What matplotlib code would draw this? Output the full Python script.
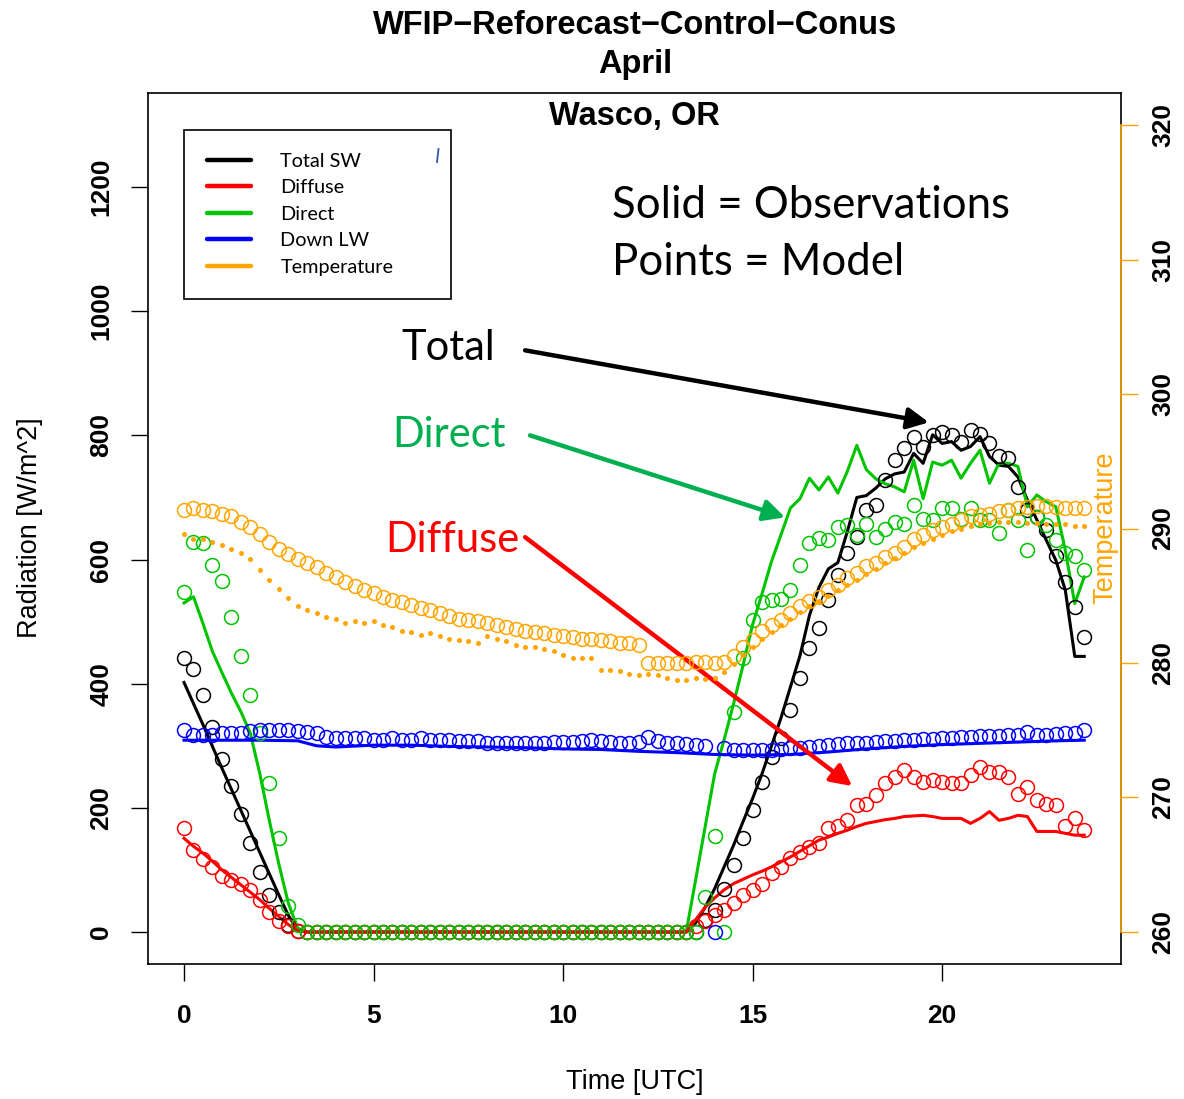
import numpy as np
import matplotlib
matplotlib.use("Agg")
from matplotlib import pyplot as plt
from matplotlib.lines import Line2D

# ---------------- data ----------------
# model output every 15 min (points)
t_model = np.arange(0, 24, 0.25)

total_model = ([441, 423, 382, 331, 278, 235, 190, 143, 96, 60, 33, 11, 2] + [0] * 41 +
               [0, 19, 35, 70, 108, 151, 197, 242, 282, 312, 358, 409, 457, 489, 535, 575,
                610, 637, 680, 688, 728, 760, 779, 798, 782, 801, 806, 801, 790, 809, 803,
                787, 766, 763, 717, 680, 669, 648, 605, 564, 524, 476])
diffuse_model = ([167, 132, 117, 105, 90, 84, 78, 68, 52, 33, 17, 9, 2] + [0] * 41 +
                 [9, 17, 27, 35, 46, 60, 68, 78, 95, 105, 119, 129, 137, 143, 167, 170,
                  180, 205, 207, 221, 240, 250, 261, 250, 242, 245, 242, 240, 240, 253,
                  266, 258, 258, 250, 223, 234, 213, 207, 205, 170, 183, 164])
direct_model = ([548, 629, 627, 592, 566, 507, 445, 382, 321, 240, 151, 42, 11] + [0] * 41 +
                [0, 57, 154, 0, 355, 441, 503, 532, 535, 537, 551, 591, 626, 634, 631, 653,
                 656, 640, 658, 637, 650, 661, 658, 688, 666, 664, 683, 683, 666, 683, 664,
                 664, 642, 680, 664, 615, 669, 656, 631, 610, 605, 583])
lw_model = [325, 317, 317, 317, 320, 320, 320, 324, 325, 325, 325, 325, 324, 323, 320, 314,
            312, 312, 312, 312, 310, 310, 312, 310, 310, 312, 310, 310, 310, 308, 307, 307,
            304, 305, 305, 305, 304, 304, 305, 306, 306, 306, 308, 309, 308, 306, 305, 304,
            306, 314, 308, 305, 304, 303, 302, 300, 0,
            296, 294, 293, 293, 294, 294, 295, 296, 297, 298, 300, 302, 303, 304, 305, 305,
            306, 307, 308, 309, 310, 311, 311, 312, 313, 314, 314, 315, 316, 316, 317, 318,
            322, 318, 318, 319, 320, 321, 325]
temp_model = [291.4, 291.5, 291.4, 291.3, 291.1, 290.9, 290.5, 290.1, 289.6, 289.0, 288.5,
              288.1, 287.7, 287.4, 287.1, 286.7, 286.4, 286.0, 285.7, 285.4, 285.2, 284.9,
              284.7, 284.5, 284.3, 284.1, 283.9, 283.7, 283.5, 283.3, 283.2, 283.1, 283.0,
              282.8, 282.7, 282.5, 282.4, 282.3, 282.2, 282.1, 282.0, 281.9, 281.8, 281.8,
              281.7, 281.6, 281.5, 281.5, 281.3,
              280.0, 280.0, 280.0, 280.0, 280.0, 280.1, 280.1, 280.0, 280.1,
              280.5, 281.2, 281.7, 282.4, 282.8, 283.2, 283.7, 284.2, 284.6, 284.9, 285.4,
              285.8, 286.3, 286.7, 287.2, 287.4, 287.9, 288.2, 288.6, 289.2, 289.5, 289.9,
              290.1, 290.3, 290.6, 290.9, 291.0, 291.1, 291.3, 291.4, 291.5, 291.6, 291.7,
              291.7, 291.6, 291.5, 291.5, 291.5]

# observations (solid lines), same 15-min clock
total_obs = ([402, 368, 334, 299, 264, 230, 196, 162, 128, 94, 60, 27, 3] + [0] * 41 +
             [15, 40, 70, 105, 140, 178, 215, 255, 300, 345, 395, 445, 510, 555, 585, 595,
              645, 700, 703, 715, 730, 738, 741, 771, 755, 801, 787, 790, 776, 782, 798,
              766, 752, 750, 733, 696, 664, 631, 599, 551, 444, 444])
diffuse_obs = ([151, 138, 127, 114, 100, 88, 76, 64, 52, 38, 25, 12, 2] + [0] * 41 +
               [20, 40, 55, 68, 78, 85, 92, 98, 105, 113, 121, 130, 139, 148, 153, 159,
                164, 170, 175, 178, 181, 183, 186, 187, 188, 186, 183, 183, 183, 175, 183,
                194, 180, 183, 188, 186, 162, 162, 162, 159, 156, 156])
direct_obs = ([530, 540, 497, 452, 418, 385, 355, 320, 255, 180, 110, 47, 6] + [0] * 41 +
              [85, 170, 255, 310, 368, 430, 495, 545, 597, 640, 683, 698, 731, 712, 733,
               707, 742, 784, 745, 730, 722, 717, 709, 760, 698, 757, 752, 760, 731, 755,
               776, 723, 755, 755, 750, 685, 704, 693, 685, 615, 529, 572])
temp_obs = [289.6, 289.2, 289.2, 289.0, 288.8, 288.5, 288.2, 287.7, 286.9, 286.2, 285.5,
            284.8, 284.2, 283.9, 283.7, 283.4, 283.3, 283.0, 283.1, 283.0, 283.1, 282.8,
            282.7, 282.4, 282.3, 282.1, 282.2, 282.0, 281.8, 281.7, 281.6, 281.5, 282.0,
            281.8, 281.6, 281.3, 281.2, 281.2, 281.0, 280.9, 280.6, 280.4, 280.4, 280.4,
            279.5, 279.5, 279.4, 279.2, 279.1, 279.2, 279.1, 278.9, 278.7, 278.7, 278.9,
            278.8, 278.9, 279.3, 279.9, 280.6, 281.2, 281.8, 282.3, 282.8, 283.3, 283.8,
            284.2, 284.6, 285.0, 285.4, 285.8, 286.2, 286.6, 287.0, 287.4, 287.8, 288.2,
            288.6, 288.9, 289.2, 289.5, 289.8, 290.0, 290.2, 290.3, 290.4, 290.5, 290.5,
            290.5, 290.4, 290.4, 290.3, 290.3, 290.3, 290.2, 290.2]

# down longwave obs is smooth: read every hour
t_lw_obs = [0, 1, 2, 3, 3.5, 4, 5, 6, 7, 8, 9, 10, 11, 12, 13, 14, 15, 16, 17, 18, 19, 20,
            21, 22, 23, 23.75]
lw_obs = [309, 309, 309, 308, 300, 298, 301, 301, 299, 298, 297, 295, 294, 291, 289, 286,
          285, 286, 290, 295, 299, 302, 304, 306, 308, 309]

legend_labels = ["Total SW", "Diffuse", "Direct", "Down LW", "Temperature"]
GREEN = "#00C400"
ORANGE = "#FFA500"
colors = ["black", "red", GREEN, "blue", ORANGE]

# ---------------- figure ----------------
W, H = 1184, 1099
fig = plt.figure(figsize=(W / 100, H / 100), dpi=100)
ax = fig.add_axes([148 / W, 1 - 964 / H, (1121 - 148) / W, (964 - 93) / H])
ax2 = ax.twinx()

sans = "Liberation Sans"
callout = "Lato"

# lines first, then model circles
ax.plot(t_model, total_obs, color="black", lw=2.2, zorder=2)
ax.plot(t_model, direct_obs, color=GREEN, lw=2.2, zorder=2)
ax.plot(t_model, diffuse_obs, color="red", lw=2.2, zorder=2)
ax.plot(t_lw_obs, lw_obs, color="blue", lw=2.2, zorder=2)
for vals, c in [(total_model, "black"), (diffuse_model, "red"),
                (direct_model, GREEN), (lw_model, "blue")]:
    ax.plot(t_model, vals, "o", mfc="none", mec=c, ms=10, mew=1.1, zorder=3)

ax2.plot(t_model, temp_obs, "o", color=ORANGE, ms=3.6, mew=0, zorder=3)
ax2.plot(t_model, temp_model, "o", mfc="none", mec=ORANGE, ms=10, mew=1.1, zorder=3)

# axes ranges (R style 4% padding)
ax.set_xlim(-0.95, 24.72)
ax.set_ylim(-51.5, 1351.5)
ax2.set_ylim(257.6, 322.4)

ax.set_xticks([0, 5, 10, 15, 20])
ax.set_yticks(range(0, 1201, 200))
ax2.set_yticks(range(260, 321, 10))
for a in (ax, ax2):
    a.tick_params(length=12, width=1, direction="out", labelsize=19)
ax.tick_params(axis="x", pad=17)
ax.tick_params(axis="y", pad=13, labelrotation=90)
ax2.tick_params(axis="y", pad=10, labelrotation=90, color=ORANGE)
for lab in ax.get_xticklabels() + ax.get_yticklabels() + ax2.get_yticklabels():
    lab.set_fontfamily(sans)
    lab.set_fontweight("bold")
for lab in ax.get_yticklabels() + ax2.get_yticklabels():
    lab.set_va("center")

for s in ax.spines.values():
    s.set_linewidth(1.2)
for s in ax2.spines.values():
    s.set_visible(False)
ax2.spines["right"].set_visible(True)
ax2.spines["right"].set_color(ORANGE)
ax2.spines["right"].set_bounds(260, 320)
ax2.spines["right"].set_linewidth(1.2)

# titles and axis labels
fig.text(635 / W, 1 - 25 / H, "WFIP\u2212Reforecast\u2212Control\u2212Conus", ha="center",
         va="center", fontsize=23.5, fontweight="bold", family=sans)
fig.text(635 / W, 1 - 65 / H, "April", ha="center", va="center", fontsize=23.5,
         fontweight="bold", family=sans)
ax.text(0.5, (964 - 116) / 871, "Wasco, OR", transform=ax.transAxes, ha="center",
        va="center", fontsize=23.5, fontweight="bold", family=sans)
fig.text(30 / W, 1 - 528 / H, "Radiation [W/m^2]", rotation=90, ha="center", va="center",
         fontsize=19.5, family=sans)
fig.text(635 / W, 1 - 1082 / H, "Time [UTC]", ha="center", va="center", fontsize=19.5,
         family=sans)
ax.text((1105 - 148) / 973, (964 - 528) / 871, "Temperature", transform=ax.transAxes,
        rotation=90, ha="center", va="center", fontsize=19.5, color=ORANGE, family=sans)

# legend
handles = [Line2D([], [], color=c, lw=3.2, solid_capstyle="round") for c in colors]
leg = ax.legend(handles, legend_labels, loc="upper left",
                bbox_to_anchor=((184 - 148) / 973, (964 - 130) / 871, (451 - 184) / 973, 0),
                mode="expand", prop={"family": callout, "size": 14.3}, frameon=True,
                fancybox=False, edgecolor="black", framealpha=1, borderpad=1.15,
                labelspacing=0.48, handlelength=2.2, handletextpad=1.5, borderaxespad=0)
leg.get_frame().set_linewidth(1.2)
fig.add_artist(Line2D([437 / W, 438.5 / W], [1 - 162 / H, 1 - 149 / H], color="#2a5aa0", lw=1.3))

# call-out texts and arrows
ax.text(11.29, 1171, "Solid = Observations", fontsize=31.5, family=callout, va="center")
ax.text(11.29, 1079, "Points = Model", fontsize=31.5, family=callout, va="center")
ax.text(6.97, 941, "Total", fontsize=30, family=callout, va="center", ha="center",
        color="black")
ax.text(6.98, 800, "Direct", fontsize=30, family=callout, va="center", ha="center",
        color="#00B050")
ax.text(7.07, 631, "Diffuse", fontsize=30, family=callout, va="center", ha="center",
        color="red")
for start, tip, c in [((9.0, 937), (19.65, 821), "black"),
                      ((9.13, 800), (15.86, 668), "#00B050"),
                      ((9.0, 636), (17.63, 235), "red")]:
    ax.annotate("", xy=tip, xytext=start,
                arrowprops=dict(arrowstyle="-|>", lw=3.2, color=c, mutation_scale=32,
                                shrinkA=0, shrinkB=0), zorder=5)

fig.savefig("out.png", dpi=100)
